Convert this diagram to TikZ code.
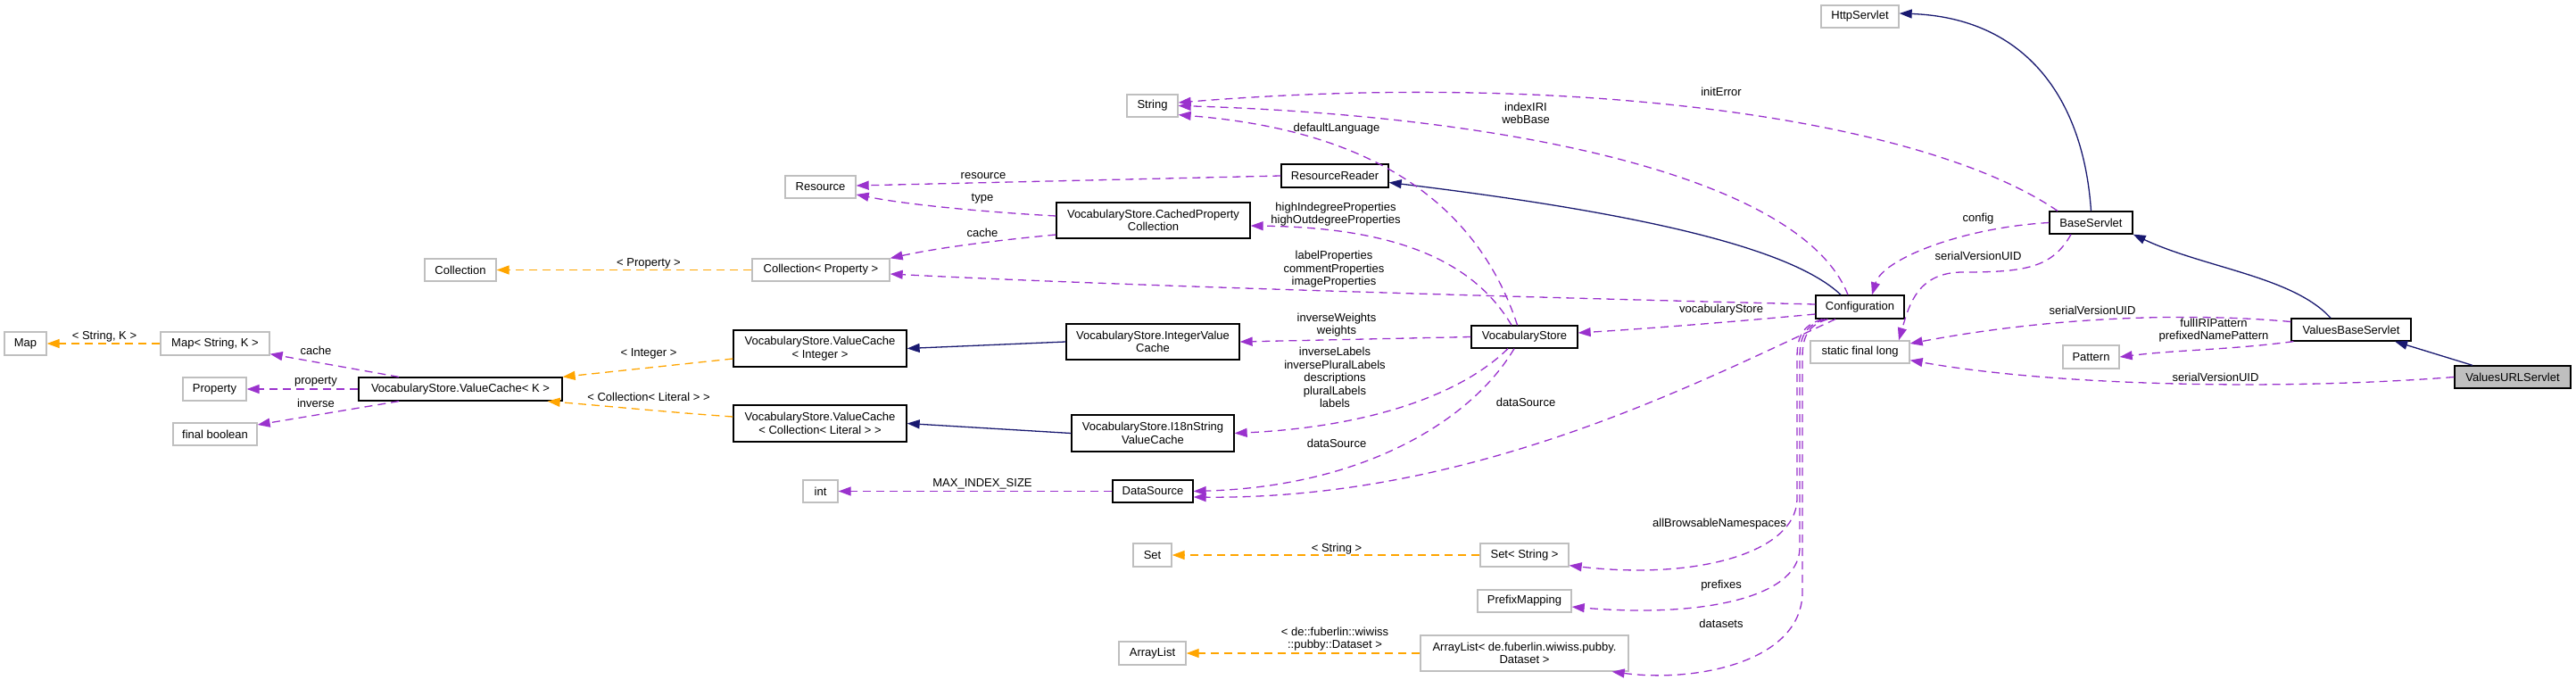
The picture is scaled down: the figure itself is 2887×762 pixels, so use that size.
\documentclass[tikz,border=0pt]{standalone}
\usepackage{fontspec}
\setmainfont{Liberation Sans}
\usetikzlibrary{arrows.meta}
\definecolor{usecol}{HTML}{9A32CD}
\definecolor{tplcol}{HTML}{FFA500}
\definecolor{inhcol}{HTML}{191970}
\definecolor{grayb}{HTML}{BFBFBF}
\begin{document}
\begin{tikzpicture}[x=1pt,y=-1pt,
  box/.style={draw=black, line width=1.3pt, rectangle, inner sep=0pt, align=center, font=\fontsize{13}{14.5}\selectfont},
  ubox/.style={box, draw=grayb},
  usedash/.style={usecol, line width=1.3pt, dash pattern=on 9pt off 6pt, -{Triangle[length=14pt,width=10pt]}},
  tpl/.style={tplcol, line width=1.3pt, dash pattern=on 9pt off 6pt, -{Triangle[length=14pt,width=10pt]}},
  inhline/.style={inhcol, line width=1.3pt, -{Triangle[length=14pt,width=10pt]}},
  lbl/.style={font=\fontsize{13}{14.5}\selectfont, align=center, inner sep=0pt, text=black}]
\useasboundingbox (0,0) rectangle (2887,762);
% nodes
\node[ubox, minimum width=47pt, minimum height=26pt] (map) at (28.5,385) {Map};
\node[ubox, minimum width=122pt, minimum height=26pt] (mapsk) at (241,385) {Map< String, K >};
\node[ubox, minimum width=71pt, minimum height=26pt] (property) at (240.5,436) {Property};
\node[ubox, minimum width=94pt, minimum height=25pt] (finalb) at (241,486.5) {final boolean};
\node[box, minimum width=228pt, minimum height=26pt] (vck) at (516,436) {VocabularyStore.ValueCache< K >};
\node[ubox, minimum width=80pt, minimum height=25pt] (coll) at (516,302.5) {Collection};
\node[ubox, minimum width=154pt, minimum height=25pt] (collprop) at (920,302.5) {Collection< Property >};
\node[ubox, minimum width=79pt, minimum height=25pt] (resource) at (919.5,209.5) {Resource};
\node[box, minimum width=194pt, minimum height=41pt] (vci) at (919,390.5) {VocabularyStore.ValueCache\\< Integer >};
\node[box, minimum width=194pt, minimum height=41pt] (vcl) at (919,474.5) {VocabularyStore.ValueCache\\< Collection< Literal > >};
\node[ubox, minimum width=39pt, minimum height=25pt] (intn) at (919.5,550.5) {int};
\node[ubox, minimum width=57pt, minimum height=25pt] (string) at (1291.5,118.5) {String};
\node[box, minimum width=120pt, minimum height=26pt] (reader) at (1496,197) {ResourceReader};
\node[box, minimum width=217pt, minimum height=40pt] (cpc) at (1292.5,247) {VocabularyStore.CachedProperty\\Collection};
\node[box, minimum width=194pt, minimum height=40pt] (ivc) at (1292,383) {VocabularyStore.IntegerValue\\Cache};
\node[box, minimum width=182pt, minimum height=41pt] (i18n) at (1292,485.5) {VocabularyStore.I18nString\\ValueCache};
\node[box, minimum width=90pt, minimum height=25pt] (ds) at (1292,550.5) {DataSource};
\node[ubox, minimum width=43pt, minimum height=26pt] (setn) at (1291.5,622) {Set};
\node[ubox, minimum width=75pt, minimum height=26pt] (alist) at (1291.5,732) {ArrayList};
\node[box, minimum width=119pt, minimum height=25pt] (vocab) at (1708.5,377.5) {VocabularyStore};
\node[ubox, minimum width=99pt, minimum height=26pt] (setstr) at (1708.5,622) {Set< String >};
\node[ubox, minimum width=105pt, minimum height=25pt] (prefix) at (1708.5,673.5) {PrefixMapping};
\node[ubox, minimum width=233pt, minimum height=40pt] (ald) at (1708.5,732) {ArrayList< de.fuberlin.wiwiss.pubby.\\Dataset >};
\node[ubox, minimum width=87pt, minimum height=25pt] (http) at (2084.5,18.5) {HttpServlet};
\node[box, minimum width=99pt, minimum height=26pt] (conf) at (2084.5,344) {Configuration};
\node[ubox, minimum width=111pt, minimum height=25pt] (sfl) at (2084.5,394.5) {static final long};
\node[box, minimum width=93pt, minimum height=25pt] (base) at (2343.5,249.5) {BaseServlet};
\node[ubox, minimum width=63pt, minimum height=26pt] (pattern) at (2343.5,400) {Pattern};
\node[box, minimum width=134pt, minimum height=25pt] (vbs) at (2635,369.5) {ValuesBaseServlet};
\node[box, fill=grayb, minimum width=130pt, minimum height=25pt] (vus) at (2816,422.5) {ValuesURLServlet};
% inheritance
\draw[inhline] (base.north) .. controls (2335,110) and (2270,20) .. ([yshift=3.5pt]http.east);
\draw[inhline] ([xshift=-21.5pt]conf.north) .. controls (2010,280) and (1850,240) .. ([yshift=-7.5pt]reader.east);
\draw[inhline] ([xshift=-23pt]vbs.north) .. controls (2570,310) and (2470,300) .. (base.south east);
\draw[inhline] ([xshift=-45pt]vus.north) -- ([xshift=49pt]vbs.south);
\draw[inhline] (ivc.west) -- (vci.east);
\draw[inhline] (i18n.west) -- (vcl.east);
% template instances
\draw[tpl] (collprop.west) -- (coll.east);
\draw[tpl] (mapsk.west) -- (map.east);
\draw[tpl] ([yshift=-11.5pt]vci.west) -- (vck.north east);
\draw[tpl] ([yshift=7.5pt]vcl.west) .. controls (750,462) and (680,455) .. ([xshift=-17pt]vck.south east);
\draw[tpl] (setstr.west) -- (setn.east);
\draw[tpl] (ald.west) -- (alist.east);
% usage
\draw[usedash] ([xshift=-13.5pt]conf.north) .. controls (2020,200) and (1700,130) .. (string.east);
\draw[usedash] ([xshift=-37.5pt]base.north) .. controls (2150,130) and (1750,80) .. ([yshift=3.5pt]string.east);
\draw[usedash] ([xshift=-8pt]vocab.north) .. controls (1640,180) and (1460,140) .. ([yshift=3pt]string.south east);
\draw[usedash] (reader.west) -- ([yshift=1.5pt]resource.east);
\draw[usedash] ([yshift=5pt]cpc.west) .. controls (1110,238) and (1020,230) .. ([yshift=-8.5pt]resource.east);
\draw[usedash] ([yshift=-16pt]cpc.west) .. controls (1110,270) and (1050,278) .. (collprop.north east);
\draw[usedash] ([xshift=-14.5pt]vocab.north) .. controls (1650,290) and (1560,255) .. ([yshift=-6pt]cpc.east);
\draw[usedash] ([yshift=3pt]conf.west) .. controls (1700,333) and (1250,320) .. ([yshift=-4.5pt]collprop.east);
\draw[usedash] ([yshift=-8pt]conf.west) .. controls (1950,360) and (1850,368) .. ([yshift=4.5pt]vocab.east);
\draw[usedash] (vocab.west) -- (ivc.east);
\draw[usedash] ([xshift=-18.5pt]vocab.south) .. controls (1640,440) and (1540,478) .. (i18n.east);
\draw[usedash] ([xshift=-11.5pt]vocab.south) .. controls (1650,470) and (1530,545) .. (ds.east);
\draw[usedash] ([xshift=-27.5pt]conf.south) .. controls (1900,430) and (1650,560) .. ([yshift=-6.5pt]ds.east);
\draw[usedash] (ds.west) -- (intn.east);
\draw[usedash] ([xshift=-69pt]vck.north) -- ([yshift=2pt]mapsk.south east);
\draw[usedash] (vck.west) -- (property.east);
\draw[usedash] ([xshift=-69pt]vck.south) -- ([yshift=10.5pt]finalb.east);
\draw[usedash] (base.west) .. controls (2200,255) and (2110,290) .. ([xshift=13.5pt]conf.north);
\draw[usedash] ([xshift=-22.5pt]base.south) .. controls (2300,300) and (2270,305) .. (2200,305) .. controls (2150,305) and (2140,340) .. ([xshift=43.5pt]sfl.north);
\draw[usedash] ([yshift=9pt]vbs.west) .. controls (2450,350) and (2300,355) .. ([yshift=9.5pt]sfl.east);
\draw[usedash] ([xshift=3pt]vbs.south west) .. controls (2500,392) and (2440,392) .. (pattern.east);
\draw[usedash] (vus.west) .. controls (2550,438) and (2300,432) .. ([yshift=4pt]sfl.south east);
\draw[usedash] ([xshift=-42pt]conf.south) .. controls (2022,364) and (2014,375) .. (2014,400) -- (2014,560) .. controls (2012,620) and (1900,650) .. ([yshift=2pt]setstr.south east);
\draw[usedash] ([xshift=-39pt]conf.south) .. controls (2025,364) and (2017,375) .. (2017,400) -- (2017,615) .. controls (2015,672) and (1900,692) .. ([yshift=-6.5pt]prefix.east);
\draw[usedash] ([xshift=-36pt]conf.south) .. controls (2028,364) and (2020,375) .. (2020,400) -- (2020,665) .. controls (2018,742) and (1900,765) .. ([xshift=-19pt]ald.south east);
% labels
\node[lbl] (l1) at (1710,127) {indexIRI\\webBase};
\node[lbl] (l2) at (1929,103) {initError};
\node[lbl] (l3) at (1498,144) {defaultLanguage};
\node[lbl] (l4) at (1102,197) {resource};
\node[lbl] (l5) at (1101,223) {type};
\node[lbl] (l6) at (1101,261) {cache};
\node[lbl] (l7) at (1497,240) {highIndegreeProperties\\highOutdegreeProperties};
\node[lbl] (l8) at (1495,302) {labelProperties\\commentProperties\\imageProperties};
\node[lbl] (l9) at (1929,347) {vocabularyStore};
\node[lbl] (l10) at (1498,364) {inverseWeights\\weights};
\node[lbl] (l11) at (1496,423) {inverseLabels\\inversePluralLabels\\descriptions\\pluralLabels\\labels};
\node[lbl] (l12) at (1498,497) {dataSource};
\node[lbl] (l13) at (1710,451) {dataSource};
\node[lbl] (l14) at (1101,542) {MAX\_INDEX\_SIZE};
\node[lbl] (l15) at (354,393) {cache};
\node[lbl] (l16) at (354,428) {property};
\node[lbl] (l17) at (354,452) {inverse};
\node[lbl] (l18) at (2217,245) {config};
\node[lbl] (l19) at (2217,287) {serialVersionUID};
\node[lbl] (l20) at (2345,348) {serialVersionUID};
\node[lbl] (l21) at (2481,370) {fullIRIPattern\\prefixedNamePattern};
\node[lbl] (l22) at (2483,423) {serialVersionUID};
\node[lbl] (l23) at (1927,587) {allBrowsableNamespaces};
\node[lbl] (l24) at (1929,656) {prefixes};
\node[lbl] (l25) at (1929,699) {datasets};
\node[lbl] (l26) at (727,295) {< Property >};
\node[lbl] (l27) at (117,377) {< String, K >};
\node[lbl] (l28) at (727,396) {< Integer >};
\node[lbl] (l29) at (727,445) {< Collection< Literal > >};
\node[lbl] (l30) at (1498,615) {< String >};
\node[lbl] (l31) at (1496,716) {< de::fuberlin::wiwiss\\::pubby::Dataset >};
\end{tikzpicture}
\end{document}
